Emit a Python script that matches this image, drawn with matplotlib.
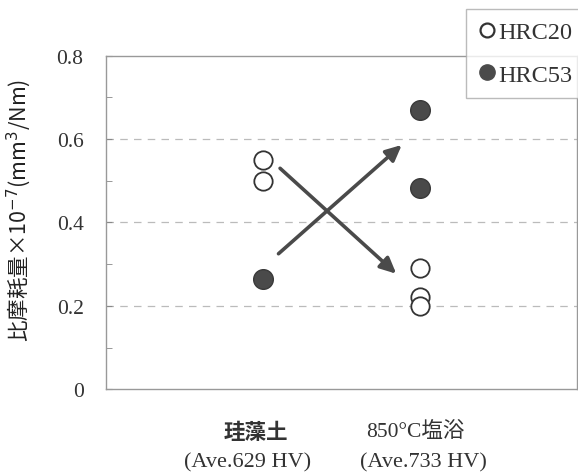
import matplotlib
matplotlib.use("Agg")
import matplotlib.pyplot as plt
from matplotlib.lines import Line2D
from matplotlib.transforms import blended_transform_factory

cat_names = ["珪藻土", "850°C塩浴"]
cat_hv = ["(Ave.629 HV)", "(Ave.733 HV)"]
hrc20_x = [0, 0, 1, 1, 1]
hrc20_y = [0.55, 0.50, 0.29, 0.22, 0.20]
hrc53_x = [0, 1, 1]
hrc53_y = [0.265, 0.67, 0.482]
# arrows: (x_start, y_start, x_end, y_end)
arrows = [(0.11, 0.53, 0.85, 0.277), (0.10, 0.325, 0.885, 0.586)]
yticks = [0, 0.2, 0.4, 0.6, 0.8]
yticklabels = ["0", "0.2", "0.4", "0.6", "0.8"]

serif = ["Liberation Serif", "Noto Sans CJK JP"]
plt.rcParams['font.family'] = serif

fig = plt.figure(figsize=(5.78, 4.77), dpi=100)
ax = fig.add_axes([0.183, 0.182, 0.815, 0.699])

ax.set_xlim(-1, 2)
ax.set_ylim(0, 0.8)

for y in [0.2, 0.4, 0.6]:
    ax.axhline(y, color="#bbbbbb", lw=0.9, ls=(0, (6, 5)), zorder=0)

for (x0, y0, x1, y1) in arrows:
    ax.annotate("", xy=(x1, y1), xytext=(x0, y0),
                arrowprops=dict(arrowstyle="-|>,head_length=0.95,head_width=0.45",
                                color="#4a4a4a", lw=2.6, shrinkA=0, shrinkB=0),
                zorder=2)

ax.scatter(hrc20_x, hrc20_y, s=175, facecolors="white", edgecolors="#333333",
           linewidths=1.3, zorder=3)
ax.scatter(hrc53_x, hrc53_y, s=200, facecolors="#4a4a4a", edgecolors="#3a3a3a",
           linewidths=1.0, zorder=3)

ax.set_yticks(yticks)
ax.set_yticklabels(yticklabels, fontsize=15.5, color="#333333")
ax.set_yticks([0.1, 0.3, 0.5, 0.7], minor=True)
ax.tick_params(axis="y", which="both", direction="in", length=4, color="#888888", pad=16)
ax.set_xticks([])

trans = blended_transform_factory(ax.transData, fig.transFigure)
name_dx = [-0.045, -0.03]
hv_dx = [-0.10, 0.02]
ax.text(0 + name_dx[0], 0.094, cat_names[0], transform=trans, ha="center", va="center",
        fontsize=15.5, color="#333333", family=["Noto Sans CJK JP"], fontweight="bold")
ax.text(1 + name_dx[1], 0.094, cat_names[1], transform=trans, ha="center", va="center",
        fontsize=15.5, color="#333333", family=serif)
for i, t in enumerate(cat_hv):
    ax.text(i + hv_dx[i], 0.029, t, transform=trans, ha="center", va="center",
            fontsize=16, color="#333333", family=serif)

for s in ax.spines.values():
    s.set_color("#999999")
    s.set_linewidth(1.0)

ax.set_ylabel("比摩耗量×10$^{-7}$(mm$^{3}$/Nm)", fontsize=15.5, color="#222222",
              family=["Noto Sans CJK JP", "DejaVu Sans"])
ax.yaxis.set_label_coords(-0.155, 0.54)

handles = [
    Line2D([], [], marker="o", ls="none", markersize=10, markerfacecolor="white",
           markeredgecolor="#333333", markeredgewidth=1.6, label="HRC20"),
    Line2D([], [], marker="o", ls="none", markersize=11, markerfacecolor="#4a4a4a",
           markeredgecolor="#4a4a4a", label="HRC53"),
]
leg = fig.legend(handles=handles, loc="upper left", bbox_to_anchor=(0.806, 0.979),
                 frameon=True, fancybox=False, handletextpad=0.15,
                 handlelength=0.7, labelspacing=0.85, borderpad=0.5,
                 borderaxespad=0, prop={"family": serif, "size": 17.5})
leg.get_frame().set_edgecolor("#aaaaaa")
leg.get_frame().set_linewidth(1.0)
for t in leg.get_texts():
    t.set_color("#333333")

fig.savefig("out.png", dpi=100)
